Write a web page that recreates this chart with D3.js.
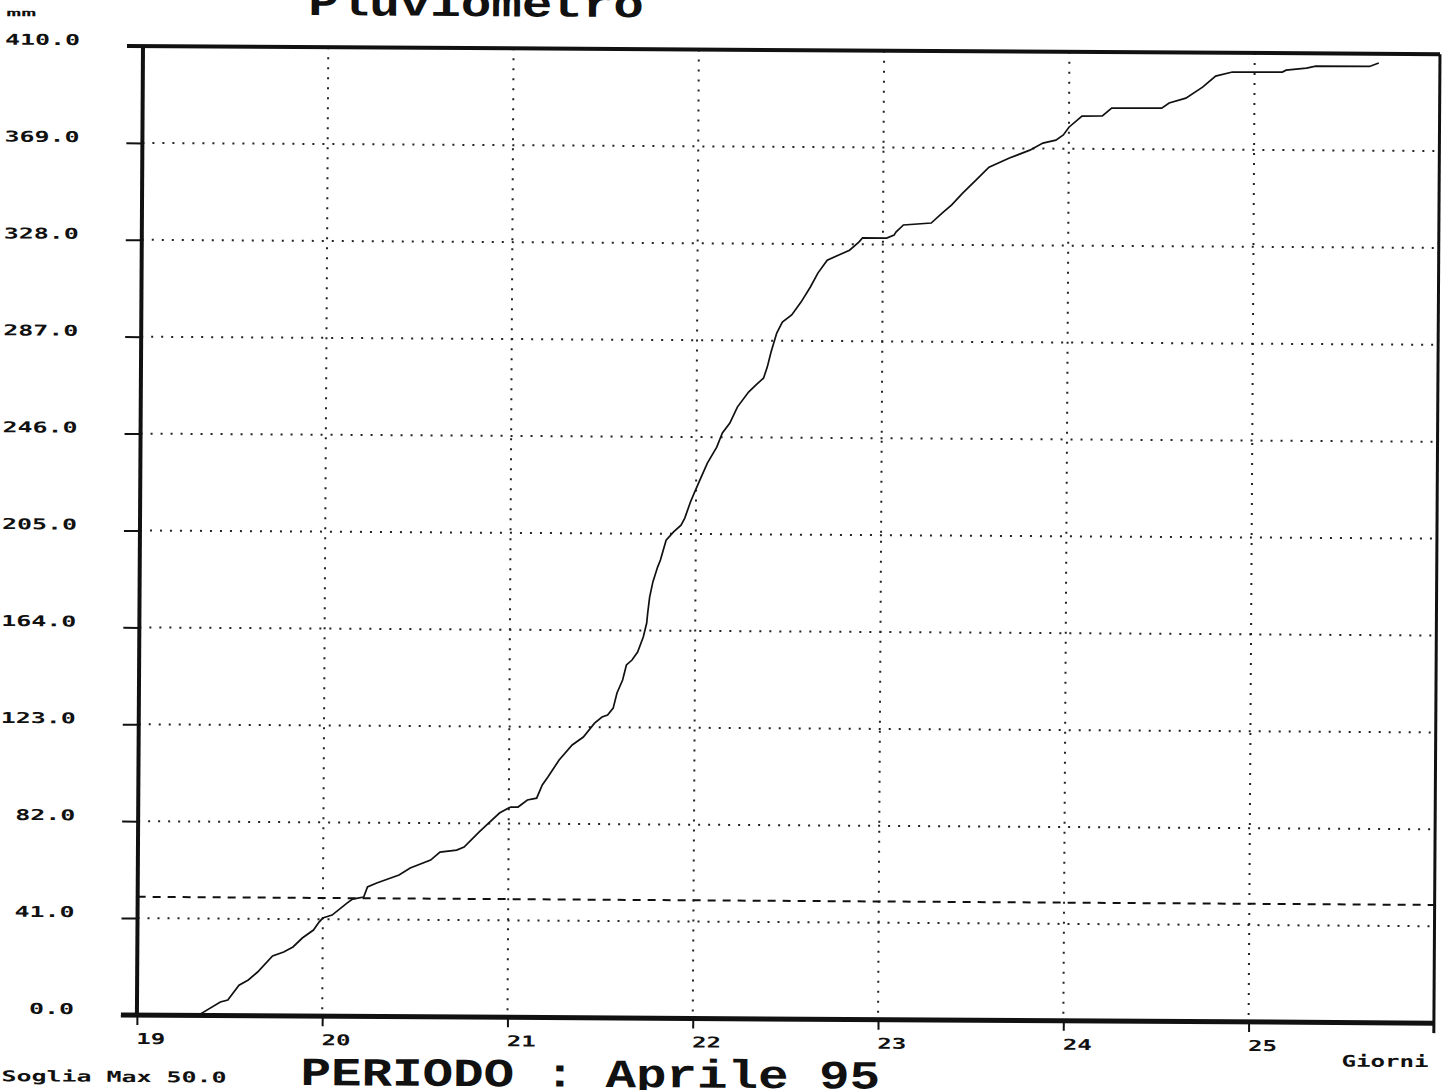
<!DOCTYPE html>
<html>
<head>
<meta charset="utf-8">
<script src="https://cdn.jsdelivr.net/npm/d3@7"></script>
<style>
  body { margin: 0; background: #fff; }
  svg { display: block; }
  .small { font-family: "DejaVu Sans Mono", monospace; font-weight: bold; font-size: 15px; fill: #111; }
  .big { font-family: "Liberation Mono", monospace; font-weight: bold; font-size: 40px; fill: #111; }
</style>
</head>
<body>
<div id="chart"></div>
<script>
// giorni (x) e pioggia cumulata in mm (y)
const days = [19.33, 19.45, 19.49, 19.55, 19.60, 19.65, 19.73, 19.79, 19.84, 19.89,
  19.95, 19.98, 20.00, 20.05, 20.13, 20.16, 20.22, 20.24, 20.29, 20.41,
  20.47, 20.58, 20.63, 20.72, 20.76, 20.84, 20.88, 20.95, 21.01, 21.05,
  21.10, 21.15, 21.18, 21.21, 21.27, 21.34, 21.40, 21.46, 21.50, 21.53,
  21.56, 21.58, 21.61, 21.63, 21.66, 21.69, 21.72, 21.738, 21.743, 21.753,
  21.77, 21.795, 21.81, 21.84, 21.88, 21.92, 21.94, 21.97, 21.99, 22.02,
  22.06, 22.11, 22.14, 22.18, 22.22, 22.28, 22.32, 22.36, 22.38, 22.40,
  22.43, 22.46, 22.51, 22.56, 22.61, 22.65, 22.70, 22.82, 22.87, 22.89,
  23.02, 23.06, 23.07, 23.11, 23.26, 23.32, 23.37, 23.43, 23.50, 23.57,
  23.68, 23.79, 23.86, 23.93, 23.97, 24.00, 24.07, 24.18, 24.23, 24.50,
  24.54, 24.63, 24.72, 24.79, 24.88, 25.15, 25.17, 25.28, 25.33, 25.62,
  25.67];
const rainMm = [0.0, 5.7, 6.6, 12.9, 15.1, 18.5, 25.3, 27.0, 29.2, 33.0,
  36.4, 39.8, 41.5, 42.8, 47.9, 49.6, 50.5, 54.8, 56.5, 59.9,
  62.9, 66.3, 69.7, 70.6, 71.9, 78.3, 81.3, 86.4, 89.0, 89.0,
  92.0, 92.8, 98.4, 101.8, 109.0, 115.4, 118.8, 124.7, 127.3, 128.2,
  131.1, 137.5, 143.0, 149.4, 151.5, 154.9, 161.3, 167.2, 171.4, 178.2,
  184.6, 190.9, 193.9, 202.3, 205.8, 208.7, 211.7, 218.5, 222.3, 227.8,
  235.0, 241.8, 247.8, 252.0, 258.8, 265.2, 268.2, 271.1, 275.8, 282.2,
  290.2, 294.9, 297.9, 303.4, 309.8, 315.7, 321.2, 325.5, 328.9, 330.7,
  330.7, 332.0, 333.3, 336.3, 337.2, 341.5, 344.9, 350.0, 355.5, 361.0,
  364.9, 368.3, 371.3, 372.6, 374.8, 378.1, 382.8, 383.0, 386.3, 386.4,
  388.6, 390.7, 395.4, 400.1, 401.9, 402.0, 402.8, 403.7, 404.6, 404.6,
  406.1];
const yTickValues = [0, 41, 82, 123, 164, 205, 246, 287, 328, 369, 410];
const dayTicks = [19, 20, 21, 22, 23, 24, 25];
const dayDomain = [19, 26];
const sogliaMax = 50;

const width = 1450, height = 1090;
const margin = { top: 46, left: 143 };
const plotW = 1297, plotH = 969;

const svg = d3.select('#chart').append('svg')
  .attr('width', width)
  .attr('height', height);

// il foglio scansionato e' leggermente ruotato
const root = svg.append('g').attr('transform', 'rotate(0.36,143,46)');
const g = root.append('g').attr('transform', `translate(${margin.left},${margin.top})`);

const x = d3.scaleLinear().domain(dayDomain).range([0, plotW]);
const y = d3.scaleLinear().domain([0, 410]).range([plotH, 0]);

// testo "stirato" come il font bitmap della stampante
function stretch(sel, perChar) {
  sel.attr('textLength', function () { return this.textContent.length * perChar; })
    .attr('lengthAdjust', 'spacingAndGlyphs');
}

// griglia a puntini
g.append('g').selectAll('line')
  .data(dayTicks.filter(d => d > dayDomain[0]))
  .join('line')
  .attr('x1', d => x(d)).attr('x2', d => x(d))
  .attr('y1', 0).attr('y2', plotH)
  .attr('stroke', '#222').attr('stroke-width', 2)
  .attr('stroke-dasharray', '2,8');

g.append('g').selectAll('line')
  .data(yTickValues.filter(d => d > 0 && d < 410))
  .join('line')
  .attr('x1', 0).attr('x2', plotW)
  .attr('y1', d => y(d)).attr('y2', d => y(d))
  .attr('stroke', '#222').attr('stroke-width', 2)
  .attr('stroke-dasharray', '2,8');

// soglia
g.append('line')
  .attr('x1', 0).attr('x2', plotW)
  .attr('y1', y(sogliaMax)).attr('y2', y(sogliaMax))
  .attr('stroke', '#111').attr('stroke-width', 2)
  .attr('stroke-dasharray', '8,7');

// curva
const line = d3.line().x(d => x(d[0])).y(d => y(d[1]));
g.append('path')
  .datum(days.map((d, i) => [d, rainMm[i]]))
  .attr('fill', 'none')
  .attr('stroke', '#111')
  .attr('stroke-width', 1.7)
  .attr('d', line);

// assi
const yAxis = g.append('g')
  .call(d3.axisLeft(y).tickValues(yTickValues).tickSize(16).tickPadding(47).tickFormat(d3.format('.1f')));
yAxis.attr('font-size', null).attr('font-family', null);
yAxis.select('.domain').remove();
yAxis.selectAll('line').attr('stroke', '#111').attr('stroke-width', 2);
yAxis.selectAll('text').attr('class', 'small').attr('dy', -1).call(stretch, 15);

const xAxis = g.append('g')
  .attr('transform', `translate(0,${plotH})`)
  .call(d3.axisBottom(x).tickValues(dayTicks).tickSize(10).tickFormat(d3.format('d')));
xAxis.attr('font-size', null).attr('font-family', null);
xAxis.select('.domain').remove();
xAxis.selectAll('line').attr('stroke', '#111').attr('stroke-width', 2);
xAxis.selectAll('text').attr('class', 'small').attr('y', 29).attr('dy', 0).attr('x', -1)
  .attr('text-anchor', 'start').call(stretch, 14.5);

// cornice
g.append('line').attr('x1', -16).attr('x2', plotW).attr('y1', 0).attr('y2', 0)
  .attr('stroke', '#111').attr('stroke-width', 4);
g.append('line').attr('x1', -16).attr('x2', plotW).attr('y1', plotH).attr('y2', plotH)
  .attr('stroke', '#111').attr('stroke-width', 5);
g.append('line').attr('x1', 0).attr('x2', 0).attr('y1', 0).attr('y2', plotH)
  .attr('stroke', '#111').attr('stroke-width', 4);
g.append('line').attr('x1', plotW).attr('x2', plotW).attr('y1', 0).attr('y2', plotH + 10)
  .attr('stroke', '#111').attr('stroke-width', 3);

// testi
root.append('text').attr('class', 'small').attr('x', 6).attr('y', 17)
  .style('font-size', '10px').text('mm').call(stretch, 15);
root.append('text').attr('class', 'big').attr('x', 308).attr('y', 14)
  .text('Pluviometro').call(stretch, 30.5);
root.append('text').attr('class', 'big').attr('x', 307).attr('y', 1084)
  .text('PERIODO : Aprile 95').call(stretch, 30.5);
root.append('text').attr('class', 'small').attr('x', 8).attr('y', 1082)
  .style('font-size', '15px').text('Soglia Max 50.0').call(stretch, 15);
root.append('text').attr('class', 'small').attr('x', 1348).attr('y', 1059)
  .style('font-size', '16px').text('Giorni').call(stretch, 14.5);
</script>
</body>
</html>
